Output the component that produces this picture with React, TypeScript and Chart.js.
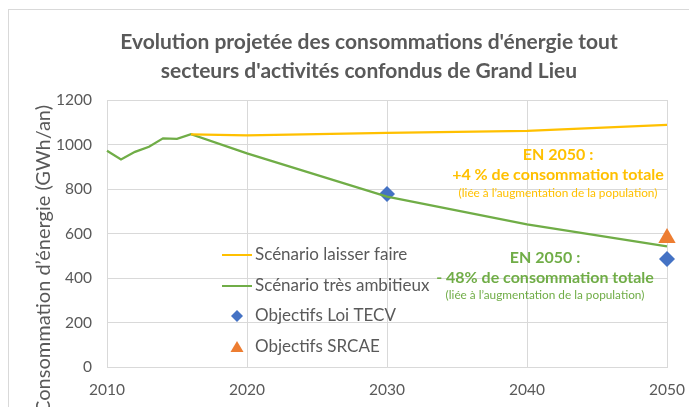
import React, { useEffect, useRef } from 'react';
import { Chart, registerables } from 'chart.js';
Chart.register(...registerables);

const titleLines = [
  "Evolution projetée des consommations d'énergie tout",
  "secteurs d'activités confondus de Grand Lieu",
];
const yAxisTitle = 'Consommation d’énergie (GWh/an)';

const histYears = [2010, 2011, 2012, 2013, 2014, 2015, 2016];
const histValues = [972, 933, 967, 990, 1028, 1025, 1046];
const projYears = [2016, 2020, 2030, 2040, 2050];
const laisserFaire = [1046, 1041, 1052, 1061, 1088];
const tresAmbitieux = [1046, 960, 766, 641, 542];
const tecvYears = [2030, 2050];
const tecvValues = [777, 485];
const srcaeYears = [2050];
const srcaeValues = [580];

const xTicks = [2010, 2020, 2030, 2040, 2050];
const yTicks = [0, 200, 400, 600, 800, 1000, 1200];

const seriesNames = [
  'Scénario laisser faire',
  'Scénario très ambitieux',
  'Objectifs Loi TECV',
  'Objectifs SRCAE',
];
const noteUp = ['EN 2050 :', '+4 % de consommation totale', '(liée à l’augmentation de la population)'];
const noteDown = ['EN 2050 :', '- 48% de consommation totale', '(liée à l’augmentation de la population)'];

const YELLOW = '#FFC000';
const GREEN = '#70AD47';
const BLUE = '#4472C4';
const ORANGE = '#ED7D31';
const GREY = '#595959';
const GRID = '#D9D9D9';
const FONT = 'Lato';

const ambitieuxPts = [
  ...histYears.map((x, i) => ({ x, y: histValues[i] })),
  ...projYears.slice(1).map((x, i) => ({ x, y: tresAmbitieux[i + 1] })),
];

const decorPlugin = {
  id: 'decor',
  beforeDraw(chart: any) {
    const ctx = chart.ctx;
    ctx.save();
    ctx.fillStyle = '#ffffff';
    ctx.fillRect(0, 0, chart.width, chart.height);
    ctx.strokeStyle = GRID;
    ctx.lineWidth = 1;
    ctx.strokeRect(8.5, 9.5, chart.width + 20, chart.height + 20);
    ctx.restore();
  },
  afterDraw(chart: any) {
    const ctx = chart.ctx;
    ctx.save();
    // title
    ctx.fillStyle = GREY;
    ctx.textAlign = 'center';
    ctx.textBaseline = 'middle';
    ctx.font = `bold 21px ${FONT}`;
    ctx.fillText(titleLines[0], 369, 42);
    ctx.fillText(titleLines[1], 369, 71);
    // y axis title
    ctx.save();
    ctx.translate(44, 105);
    ctx.rotate(-Math.PI / 2);
    ctx.textAlign = 'right';
    ctx.font = `20px ${FONT}`;
    ctx.fillText(yAxisTitle, 0, 0);
    ctx.restore();
    // legend
    ctx.font = `17px ${FONT}`;
    ctx.textAlign = 'left';
    const rows = [255, 286, 316, 347];
    ctx.lineWidth = 2;
    ctx.strokeStyle = YELLOW;
    ctx.beginPath(); ctx.moveTo(222, rows[0]); ctx.lineTo(252, rows[0]); ctx.stroke();
    ctx.strokeStyle = GREEN;
    ctx.beginPath(); ctx.moveTo(222, rows[1]); ctx.lineTo(252, rows[1]); ctx.stroke();
    ctx.fillStyle = BLUE;
    ctx.beginPath();
    ctx.moveTo(237, rows[2] - 6); ctx.lineTo(243, rows[2]); ctx.lineTo(237, rows[2] + 6); ctx.lineTo(231, rows[2]);
    ctx.closePath(); ctx.fill();
    ctx.fillStyle = ORANGE;
    ctx.beginPath();
    ctx.moveTo(237, rows[3] - 6); ctx.lineTo(243.5, rows[3] + 5); ctx.lineTo(230.5, rows[3] + 5);
    ctx.closePath(); ctx.fill();
    ctx.fillStyle = GREY;
    seriesNames.forEach((t, i) => ctx.fillText(t, 255, rows[i]));
    // annotations
    ctx.textAlign = 'center';
    const drawNote = (lines: string[], color: string, cx: number, ys: number[]) => {
      ctx.fillStyle = color;
      ctx.font = `bold 16px ${FONT}`;
      ctx.fillText(lines[0], cx, ys[0]);
      ctx.fillText(lines[1], cx, ys[1]);
      ctx.font = `11.8px ${FONT}`;
      ctx.fillText(lines[2], cx, ys[2]);
    };
    drawNote(noteUp, YELLOW, 558, [155, 175, 193]);
    drawNote(noteDown, GREEN, 545, [258, 278, 295]);
    ctx.restore();
  },
};

export default function App() {
  const ref = useRef<HTMLCanvasElement>(null);
  useEffect(() => {
    if (!ref.current) return;
    const chart = new Chart(ref.current, {
      type: 'line',
      data: {
        datasets: [
          {
            label: seriesNames[0],
            data: projYears.map((x, i) => ({ x, y: laisserFaire[i] })),
            borderColor: YELLOW,
            borderWidth: 2.25,
            pointRadius: 0,
            tension: 0,
            clip: false,
          },
          {
            label: seriesNames[1],
            data: ambitieuxPts,
            borderColor: GREEN,
            borderWidth: 2.25,
            pointRadius: 0,
            tension: 0,
            clip: false,
          },
          {
            label: seriesNames[2],
            data: tecvYears.map((x, i) => ({ x, y: tecvValues[i] })),
            showLine: false,
            pointStyle: 'rectRot',
            pointRadius: 8,
            backgroundColor: BLUE,
            borderColor: BLUE,
            borderWidth: 0,
            clip: false,
          },
          {
            label: seriesNames[3],
            data: srcaeYears.map((x, i) => ({ x, y: srcaeValues[i] })),
            showLine: false,
            pointStyle: 'triangle',
            pointRadius: 10,
            backgroundColor: ORANGE,
            borderColor: ORANGE,
            borderWidth: 0,
            clip: false,
          },
        ],
      },
      options: {
        responsive: false,
        animation: false,
        layout: { padding: { top: 100, right: 22, left: 0, bottom: 0 } },
        plugins: {
          legend: { display: false },
          title: { display: false },
          tooltip: { enabled: false },
        },
        scales: {
          x: {
            type: 'linear',
            min: 2010,
            max: 2050,
            afterFit: (s: any) => { s.height = 40; s.paddingLeft = 0; s.paddingRight = 0; },
            afterBuildTicks: (s: any) => { s.ticks = xTicks.map((v) => ({ value: v })); },
            grid: { color: GRID, drawTicks: false },
            border: { color: GRID },
            ticks: {
              padding: 14,
              color: GREY,
              font: { family: FONT, size: 15.5 },
              callback: (v: any) => String(v),
              maxRotation: 0,
            },
          },
          y: {
            min: 0,
            max: 1200,
            afterFit: (s: any) => { s.width = 107; s.paddingTop = 0; s.paddingBottom = 0; },
            afterBuildTicks: (s: any) => { s.ticks = yTicks.map((v) => ({ value: v })); },
            grid: { color: GRID, drawTicks: false },
            border: { color: GRID },
            ticks: {
              padding: 15,
              color: GREY,
              font: { family: FONT, size: 15.5 },
              callback: (v: any) => String(v),
            },
          },
        },
      },
      plugins: [decorPlugin],
    } as any);
    return () => chart.destroy();
  }, []);
  return (
    <div style={{ position: 'fixed', left: 0, top: 0, width: 689, height: 407 }}>
      <canvas ref={ref} width={689} height={407} style={{ display: 'block' }} />
    </div>
  );
}
